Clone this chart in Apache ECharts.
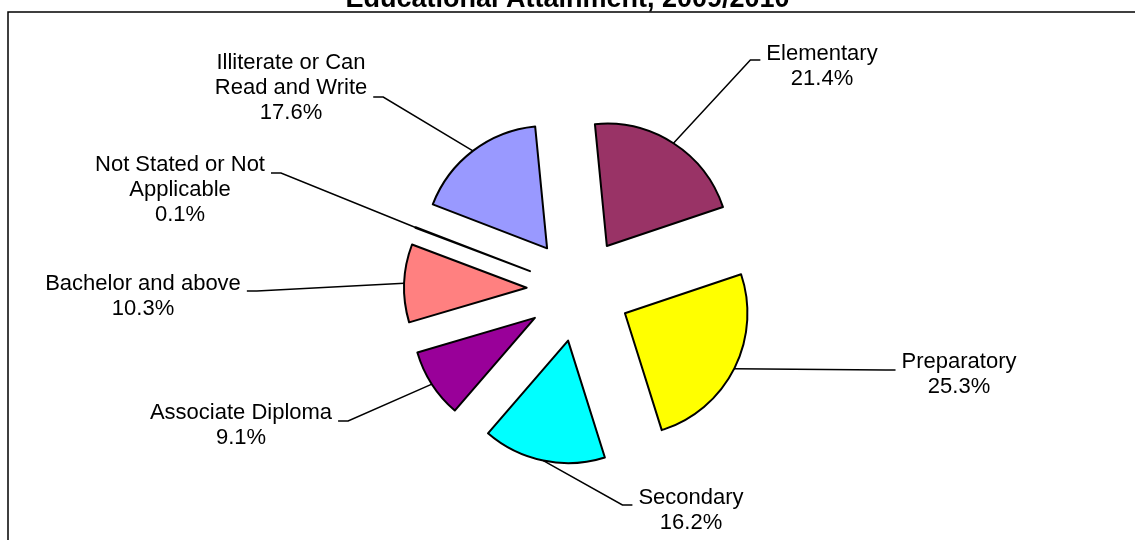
<!DOCTYPE html>
<html>
<head>
<meta charset="utf-8">
<title>Educational Attainment, 2009/2010</title>
<script src="https://cdn.jsdelivr.net/npm/echarts@6/dist/echarts.min.js"></script>
<style>
  html, body { margin: 0; padding: 0; background: #ffffff; }
  #chart { width: 1135px; height: 540px; }
</style>
</head>
<body>
<div id="chart"></div>
<script>
// data (share of population, %)
var categories = [
  'Elementary',
  'Preparatory',
  'Secondary',
  'Associate Diploma',
  'Bachelor and above',
  'Not Stated or Not\nApplicable',
  'Illiterate or Can\nRead and Write'
];
var shares = [21.4, 25.3, 16.2, 9.1, 10.3, 0.1, 17.6];
var colors = ['#993366', '#FFFF00', '#00FFFF', '#990099', '#FF8080', '#0066CC', '#9999FF'];

// layout of the exploded pie
var pieCenter = [578.6, 289.7];
var pieRadius = 122.5;
var startAngle = 95.6;
var explode = 52;

// data label centre and height of its leader line (px)
var labelSpots = [[822, 66, 60], [959, 374, 370], [691, 510, 505], [241, 425, 421],
                  [143, 296, 291], [180, 190, 173], [291, 88, 97]];

var chart = echarts.init(document.getElementById('chart'), null, { renderer: 'canvas' });

var total = shares.reduce(function (a, b) { return a + b; }, 0);

// one pie per slice, every pie holds all values so the library lays out the angles,
// only its own slice is painted; its centre is pushed out along the slice middle
var series = [];
var cum = 0;
shares.forEach(function (v, i) {
  var mid = (startAngle - 360 * (cum + v / 2) / total) * Math.PI / 180;
  cum += v;
  var data = categories.map(function (name, j) {
    if (j === i) {
      return {
        name: name,
        value: shares[j],
        itemStyle: { color: colors[j], borderColor: '#000000', borderWidth: 2 }
      };
    }
    return {
      name: name,
      value: shares[j],
      itemStyle: { color: 'rgba(0,0,0,0)', borderWidth: 0 },
      label: { show: false },
      labelLine: { show: false }
    };
  });
  series.push({
    type: 'pie',
    silent: true,
    center: [pieCenter[0] + explode * Math.cos(mid), pieCenter[1] - explode * Math.sin(mid)],
    radius: [0, pieRadius],
    startAngle: startAngle,
    clockwise: true,
    percentPrecision: 1,
    avoidLabelOverlap: false,
    emphasis: { disabled: true },
    label: {
      show: true,
      formatter: '{b}\n{d}%',
      color: '#000000',
      fontFamily: 'Liberation Sans, Arial, sans-serif',
      fontSize: 22,
      lineHeight: 25,
      align: 'center'
    },
    labelLine: {
      show: true,
      length: 20,
      length2: 10,
      lineStyle: { color: '#000000', width: 1.5 }
    },
    labelLayout: function (params) {
      var s = labelSpots[i];
      var w = params.labelRect.width;
      var arc = params.labelLinePoints ? params.labelLinePoints[0] : [s[0], s[2]];
      var onLeft = s[0] < pieCenter[0];
      var endX = onLeft ? s[0] + w / 2 + 6 : s[0] - w / 2 - 6;
      var elbowX = onLeft ? endX + 10 : endX - 10;
      return {
        x: s[0],
        y: s[1],
        align: 'center',
        verticalAlign: 'middle',
        labelLinePoints: [arc, [elbowX, s[2]], [endX, s[2]]]
      };
    },
    data: data
  });
});

var option = {
  backgroundColor: '#ffffff',
  animation: false,
  title: {
    text: 'Educational Attainment, 2009/2010',
    left: 'center',
    top: -19,
    textStyle: {
      fontFamily: 'Liberation Sans, Arial, sans-serif',
      fontSize: 27,
      fontWeight: 'bold',
      color: '#000000'
    }
  },
  graphic: [{
    type: 'polyline',
    silent: true,
    shape: { points: [[8, 560], [8, 12], [1140, 12]] },
    style: { stroke: '#000000', lineWidth: 1.5, fill: null }
  }],
  series: series
};

chart.setOption(option);
</script>
</body>
</html>
